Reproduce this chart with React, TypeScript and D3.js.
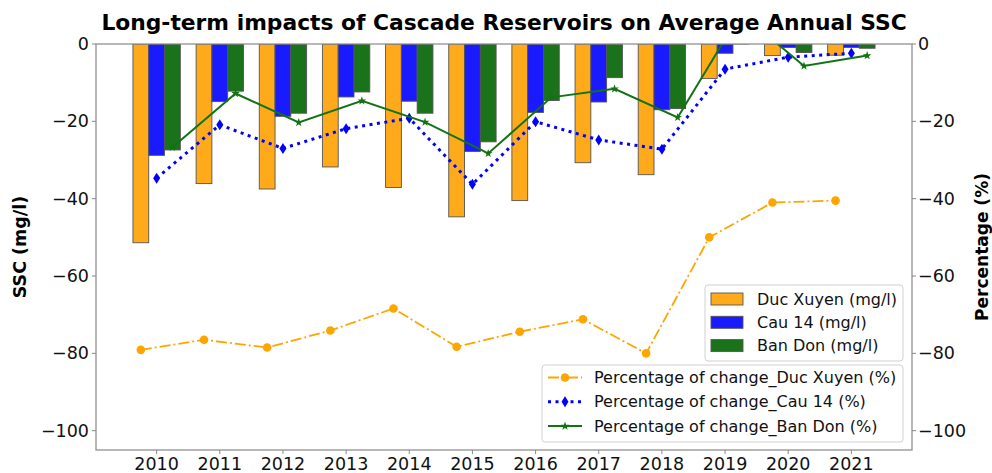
import React from "react";
import * as d3 from "d3";

const years = [2010, 2011, 2012, 2013, 2014, 2015, 2016, 2017, 2018, 2019, 2020, 2021];
const ducXuyenSSC = [-51.4, -36.1, -37.5, -31.8, -37.1, -44.7, -40.5, -30.7, -33.8, -8.9, -3.0, -2.9];
const cau14SSC = [-28.8, -14.9, -18.7, -13.7, -14.8, -27.8, -17.7, -15.0, -17.0, -2.4, -0.9, -0.9];
const banDonSSC = [-27.4, -12.2, -17.9, -12.4, -17.9, -25.3, -14.6, -8.7, -16.7, 1.5, -2.2, -1.1];
const ducXuyenPct = [-79.1, -76.5, -78.5, -74.1, -68.4, -78.3, -74.4, -71.2, -80.0, -50.0, -41.0, -40.5];
const cau14Pct = [-34.7, -20.9, -27.0, -21.9, -19.2, -36.3, -20.1, -24.8, -27.2, -6.5, -3.4, -2.4];
const banDonPct = [-26.7, -12.8, -20.3, -14.7, -20.2, -28.3, -13.8, -11.6, -19.0, 8.0, -5.7, -3.0];
const yTicks = [0, -20, -40, -60, -80, -100];

const barLegend = ["Duc Xuyen (mg/l)", "Cau 14 (mg/l)", "Ban Don (mg/l)"];
const lineLegend = [
  "Percentage of change_Duc Xuyen (%)",
  "Percentage of change_Cau 14 (%)",
  "Percentage of change_Ban Don (%)",
];

const FONT = "'DejaVu Sans', sans-serif";
const L = 96, R = 912, T = 44, B = 450;
const BW = 0.25;

const ORANGE = "#FFA500";
const BAR_COLORS = ["#FFAA1A", "#1A1AFF", "#1A731A"];

function starPath(cx: number, cy: number, r: number) {
  const pts: string[] = [];
  for (let i = 0; i < 10; i++) {
    const a = -Math.PI / 2 + (i * Math.PI) / 5;
    const rr = i % 2 === 0 ? r : r * 0.4;
    pts.push(`${cx + rr * Math.cos(a)},${cy + rr * Math.sin(a)}`);
  }
  return "M" + pts.join("L") + "Z";
}
function diamondPath(cx: number, cy: number, h: number, w: number) {
  return `M${cx},${cy - h}L${cx + w},${cy}L${cx},${cy + h}L${cx - w},${cy}Z`;
}

export default function App() {
  const x = d3.scaleLinear().domain([2009.04, 2021.96]).range([L, R]);
  const y = d3.scaleLinear().domain([-105, 0]).range([B, T]);
  const fmt = d3.format("d");
  const bw = x(2010 + BW) - x(2010);

  const series = [ducXuyenSSC, cau14SSC, banDonSSC];
  const offsets = [-BW, 0, BW];

  const lineGen = (offset: number) =>
    d3
      .line<number>()
      .x((_, i) => x(years[i] + offset))
      .y((d) => y(d));

  return (
    <svg
      width={992}
      height={473}
      style={{ position: "absolute", left: 0, top: 0, background: "#fff" }}
      fontFamily={FONT}
    >
      <defs>
        <clipPath id="plotclip">
          <rect x={L} y={T} width={R - L} height={B - T} />
        </clipPath>
      </defs>
      <rect x={0} y={0} width={992} height={473} fill="#fff" />
      {/* title */}
      <text x={(L + R) / 2} y={30} textAnchor="middle" fontWeight="bold" fontSize={21.8}>
        Long-term impacts of Cascade Reservoirs on Average Annual SSC
      </text>

      {/* bars */}
      <g clipPath="url(#plotclip)">
        {series.map((s, si) =>
          s.map((v, i) => {
            const cx = x(years[i] + offsets[si]);
            const y0 = y(0), y1 = y(v);
            return (
              <rect
                key={`b${si}-${i}`}
                x={cx - bw / 2}
                y={Math.min(y0, y1)}
                width={bw}
                height={Math.abs(y1 - y0)}
                fill={BAR_COLORS[si]}
                stroke="#555"
                strokeWidth={0.9}
              />
            );
          })
        )}
      </g>

      {/* lines */}
      <g clipPath="url(#plotclip)">
        <path
          d={lineGen(-BW)(ducXuyenPct) || ""}
          fill="none"
          stroke={ORANGE}
          strokeWidth={1.8}
          strokeDasharray="11,3,2,3"
        />
        {ducXuyenPct.map((v, i) => (
          <circle key={`o${i}`} cx={x(years[i] - BW)} cy={y(v)} r={4.3} fill={ORANGE} />
        ))}
        <path
          d={lineGen(0)(cau14Pct) || ""}
          fill="none"
          stroke="#0000FF"
          strokeWidth={3}
          strokeDasharray="3,4.5"
        />
        {cau14Pct.map((v, i) => (
          <path key={`d${i}`} d={diamondPath(x(years[i]), y(v), 5.5, 3.5)} fill="#0000FF" />
        ))}
        <path d={lineGen(BW)(banDonPct) || ""} fill="none" stroke="#137313" strokeWidth={2} />
        {banDonPct.map((v, i) => (
          <path key={`s${i}`} d={starPath(x(years[i] + BW), y(v), 4.5)} fill="#137313" />
        ))}
      </g>

      {/* spines */}
      <rect x={L} y={T} width={R - L} height={B - T} fill="none" stroke="#888" strokeWidth={1.2} />

      {/* left axis */}
      {yTicks.map((t) => (
        <g key={`l${t}`}>
          <line x1={L - 4} x2={L} y1={y(t)} y2={y(t)} stroke="#888" strokeWidth={1} />
          <text x={L - 7} y={y(t)} dy="0.35em" textAnchor="end" fontSize={17.5} fill="#111">
            {t < 0 ? "\u2212" + fmt(-t) : fmt(t)}
          </text>
        </g>
      ))}
      {/* right axis */}
      {yTicks.map((t) => (
        <g key={`r${t}`}>
          <line x1={R} x2={R + 4} y1={y(t)} y2={y(t)} stroke="#888" strokeWidth={1} />
          <text x={R + 6} y={y(t)} dy="0.35em" textAnchor="start" fontSize={17.5} fill="#111">
            {t < 0 ? "\u2212" + fmt(-t) : fmt(t)}
          </text>
        </g>
      ))}
      {/* bottom axis */}
      {years.map((yr) => (
        <g key={`x${yr}`}>
          <line x1={x(yr)} x2={x(yr)} y1={B} y2={B + 4} stroke="#888" strokeWidth={1} />
          <text x={x(yr)} y={B + 20} textAnchor="middle" fontSize={17.5} fill="#111">
            {yr}
          </text>
        </g>
      ))}

      {/* axis labels */}
      <text
        transform={`translate(26,${(T + B) / 2}) rotate(-90)`}
        textAnchor="middle"
        fontWeight="bold"
        fontSize={17.5}
      >
        SSC (mg/l)
      </text>
      <text
        transform={`translate(988,${(T + B) / 2}) rotate(-90)`}
        textAnchor="middle"
        fontWeight="bold"
        fontSize={17}
      >
        Percentage (%)
      </text>

      {/* bar legend */}
      <g>
        <rect x={705} y={285} width={198} height={76} rx={3} fill="#fff" fillOpacity={0.8} stroke="#d0d0d0" />
        {barLegend.map((lab, i) => {
          const cy = 299 + i * 23.3;
          return (
            <g key={`bl${i}`}>
              <rect x={711} y={cy - 6} width={32} height={12} fill={BAR_COLORS[i]} stroke="#555" strokeWidth={0.9} />
              <text x={757} y={cy} dy="0.35em" fontSize={16} fill="#111">
                {lab}
              </text>
            </g>
          );
        })}
      </g>

      {/* line legend */}
      <g>
        <rect x={542} y={365} width={361} height={77} rx={3} fill="#fff" fillOpacity={0.8} stroke="#d0d0d0" />
        {lineLegend.map((lab, i) => {
          const cy = 377.5 + i * 24.3;
          const x0 = 548, x1 = 582, mx = 565;
          return (
            <g key={`ll${i}`}>
              {i === 0 && (
                <>
                  <line x1={x0} x2={x1} y1={cy} y2={cy} stroke={ORANGE} strokeWidth={1.8} strokeDasharray="11,3,2,3" />
                  <circle cx={mx} cy={cy} r={4.3} fill={ORANGE} />
                </>
              )}
              {i === 1 && (
                <>
                  <line x1={x0} x2={x1} y1={cy} y2={cy} stroke="#0000FF" strokeWidth={3} strokeDasharray="3,4.5" />
                  <path d={diamondPath(mx, cy, 5.5, 3.5)} fill="#0000FF" />
                </>
              )}
              {i === 2 && (
                <>
                  <line x1={x0} x2={x1} y1={cy} y2={cy} stroke="#137313" strokeWidth={2} />
                  <path d={starPath(mx, cy, 4.5)} fill="#137313" />
                </>
              )}
              <text x={594} y={cy} dy="0.35em" fontSize={16} fill="#111">
                {lab}
              </text>
            </g>
          );
        })}
      </g>
    </svg>
  );
}
